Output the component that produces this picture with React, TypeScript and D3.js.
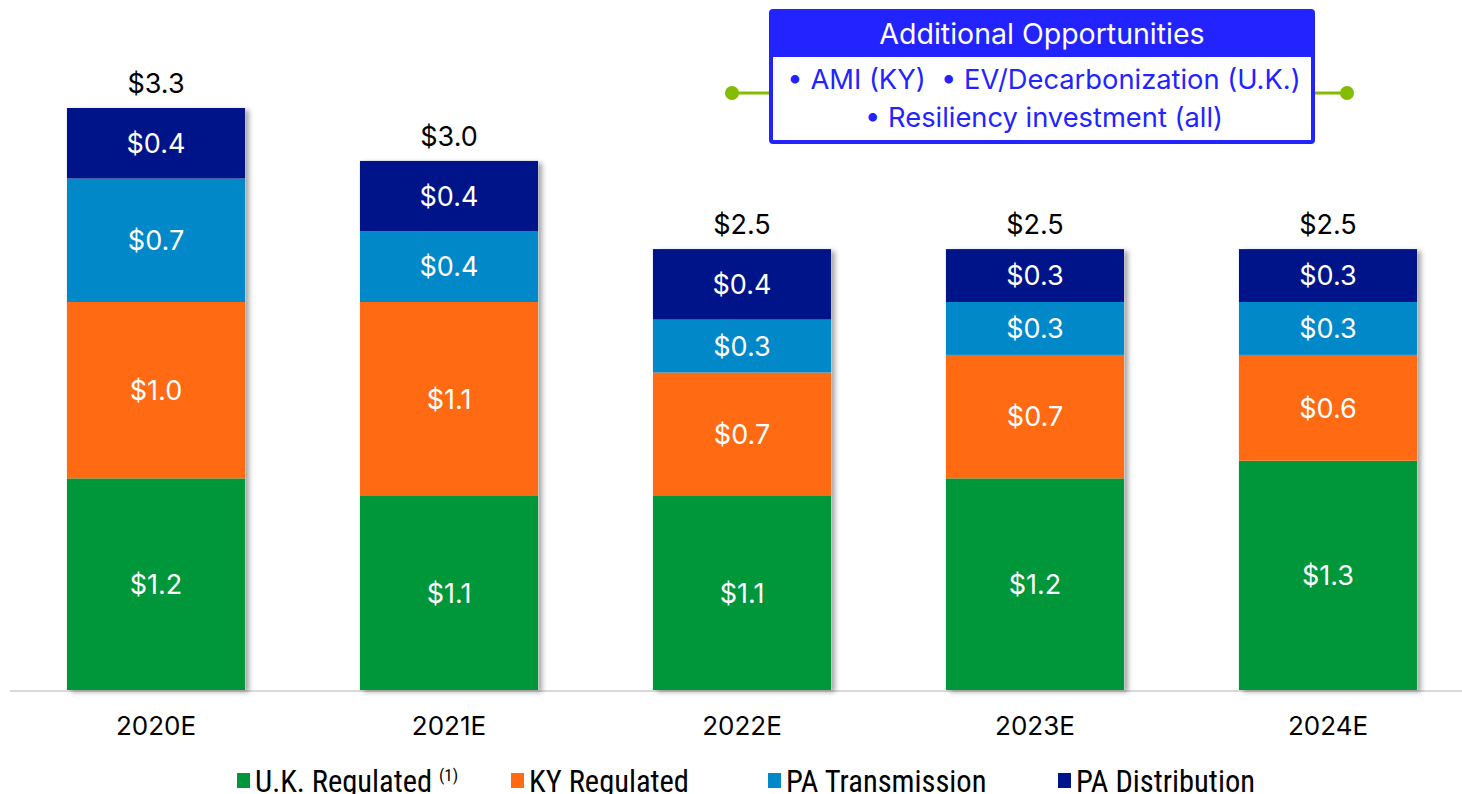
import React from 'react'
import * as d3 from 'd3'

const years = ['2020E', '2021E', '2022E', '2023E', '2024E']
const ukRegulated = [1.2, 1.1, 1.1, 1.2, 1.3]
const kyRegulated = [1.0, 1.1, 0.7, 0.7, 0.6]
const paTransmission = [0.7, 0.4, 0.3, 0.3, 0.3]
const paDistribution = [0.4, 0.4, 0.4, 0.3, 0.3]
const totals = [3.3, 3.0, 2.5, 2.5, 2.5]

const seriesNames = ['U.K. Regulated', 'KY Regulated', 'PA Transmission', 'PA Distribution']
const seriesColors = ['#00963a', '#ff6a13', '#0088c9', '#001489']
const opportunityLines = ['\u2022 AMI (KY)  \u2022 EV/Decarbonization (U.K.)', '\u2022 Resiliency investment (all)']

const W = 1462
const H = 794
const baseY = 690
const labelFont = 'Inter, "Noto Sans", "Liberation Sans", sans-serif'
const legendFont = '"Liberation Sans Narrow", "Roboto Condensed", "Liberation Sans", sans-serif'

export default function App() {
  const rows = years.map((y, i) => ({
    year: y,
    uk: ukRegulated[i],
    ky: kyRegulated[i],
    pat: paTransmission[i],
    pad: paDistribution[i],
  }))
  const keys = ['uk', 'ky', 'pat', 'pad']
  const stacked = d3.stack<any>().keys(keys)(rows)

  const x = d3.scaleBand().domain(years).range([9.5, 1474.5]).paddingInner(0.392).paddingOuter(0.196)
  const y = d3.scaleLinear().domain([0, 3.3]).range([baseY, 108])

  // legend layout
  const legendX = [237, 511, 768, 1058]

  return (
    <svg width={W} height={H} style={{ position: 'absolute', left: 0, top: 0 }}>
      <defs>
        <filter id="shadow" x="-10%" y="-10%" width="130%" height="130%">
          <feDropShadow dx="4" dy="2" stdDeviation="2.5" floodColor="#000" floodOpacity="0.35" />
        </filter>
      </defs>
      <rect width={W} height={H} fill="#fff" />

      <line x1={10} x2={W} y1={baseY + 1} y2={baseY + 1} stroke="#d9d9d9" strokeWidth={2} />

      {years.map((yr, i) => {
        const x0 = x(yr) as number
        return (
          <g key={yr}>
            <rect x={x0} y={y(totals[i])} width={x.bandwidth()} height={baseY - y(totals[i])} fill="#fff" filter="url(#shadow)" />
            {stacked.map((s, k) => {
              const d = s[i]
              const top = y(d[1])
              const bot = y(d[0])
              return (
                <g key={k}>
                  <rect x={x0} y={top} width={x.bandwidth()} height={bot - top} fill={seriesColors[k]} />
                  <text x={x0 + x.bandwidth() / 2} y={(top + bot) / 2} dy="0.36em" textAnchor="middle"
                    fill="#fff" fontSize={27} fontFamily={labelFont}>
                    {'$' + (d[1] - d[0]).toFixed(1)}
                  </text>
                </g>
              )
            })}
            <text x={x0 + x.bandwidth() / 2} y={y(totals[i]) - 15} textAnchor="middle" fill="#000"
              fontSize={27} fontFamily={labelFont}>
              {'$' + totals[i].toFixed(1)}
            </text>
            <text x={x0 + x.bandwidth() / 2} y={735} textAnchor="middle" fill="#000" fontSize={26} fontFamily={labelFont}>
              {yr}
            </text>
          </g>
        )
      })}

      {/* Additional opportunities box */}
      <line x1={732} x2={771} y1={93} y2={93} stroke="#84bd00" strokeWidth={3} />
      <circle cx={732} cy={93} r={7} fill="#84bd00" />
      <line x1={1313} x2={1347} y1={93} y2={93} stroke="#84bd00" strokeWidth={3} />
      <circle cx={1347} cy={93} r={7} fill="#84bd00" />
      <rect x={771} y={11} width={542} height={131} fill="#fff" stroke="#2323ff" strokeWidth={4} rx={2} />
      <rect x={771} y={11} width={542} height={46} fill="#2323ff" />
      <text x={1042} y={44} textAnchor="middle" fill="#fff" fontSize={28.5} fontFamily={labelFont}>
        Additional Opportunities
      </text>
      {opportunityLines.map((t, i) => (
        <text key={i} x={1044} y={89 + i * 38} textAnchor="middle" fill="#2323ff" fontSize={27.3}
          fontFamily={labelFont} style={{ whiteSpace: 'pre' }}>
          {t}
        </text>
      ))}

      {/* legend */}
      {seriesNames.map((n, i) => (
        <g key={n}>
          <rect x={legendX[i]} y={773} width={13} height={15} fill={seriesColors[i]} />
          <text x={legendX[i] + 18} y={792} fill="#000" fontSize={30.5} fontFamily={legendFont}>
            {n}
          </text>
        </g>
      ))}
      <text x={439} y={781} fill="#000" fontSize={17} fontFamily={legendFont}>(1)</text>
    </svg>
  )
}
